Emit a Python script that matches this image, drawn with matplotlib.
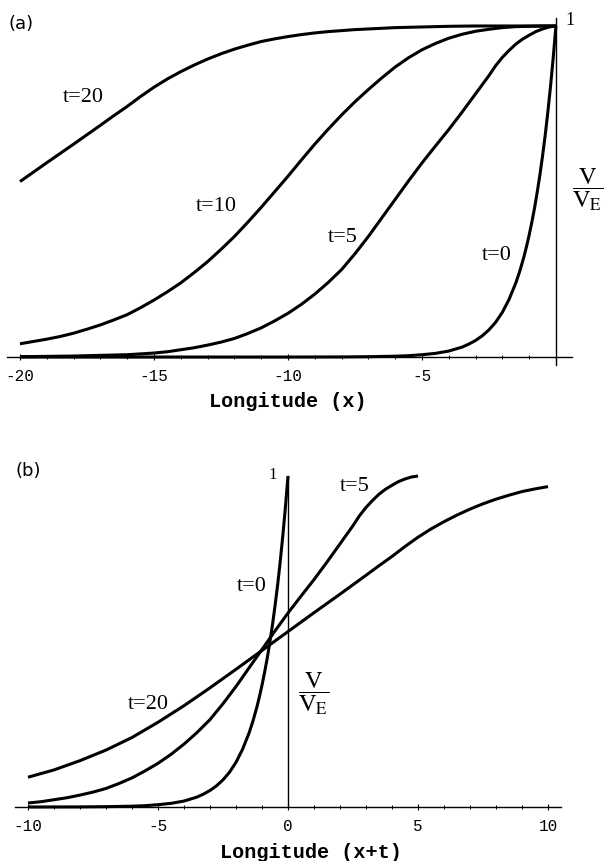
import numpy as np
import matplotlib.pyplot as plt
from matplotlib.ticker import MultipleLocator

plt.rcParams['mathtext.fontset'] = 'stix'

# V/V_E profiles read against longitude x for each time t
x_t0 = [-20, -10, -8, -7, -6, -5.5, -5, -4.5, -4, -3.5, -3.25, -3, -2.75, -2.5, -2.25,
        -2, -1.75, -1.5, -1.35, -1.2, -1.1, -1, -0.9, -0.8, -0.7, -0.6, -0.5, -0.4,
        -0.3, -0.2, -0.1, 0]
v_t0 = [0.0, 0.0, 0.0003, 0.001, 0.0025, 0.004, 0.007, 0.011, 0.018, 0.030, 0.039,
        0.050, 0.064, 0.082, 0.105, 0.135, 0.174, 0.223, 0.259, 0.301, 0.333, 0.368,
        0.407, 0.449, 0.497, 0.549, 0.607, 0.670, 0.741, 0.819, 0.905, 1.0]

x_t5 = [-20, -18, -16, -15, -14.5, -14, -13.5, -13, -12.5, -12, -11.5, -11, -10.5, -10,
        -9.5, -9, -8.5, -8, -7.5, -7, -6.5, -6, -5.5, -5, -4.5, -4, -3.5, -3, -2.5,
        -2.25, -2, -1.75, -1.5, -1.25, -1, -0.75, -0.5, -0.25, 0]
v_t5 = [0.001, 0.003, 0.007, 0.012, 0.016, 0.022, 0.028, 0.036, 0.045, 0.056, 0.071,
        0.088, 0.109, 0.132, 0.159, 0.19, 0.225, 0.264, 0.312, 0.364, 0.42, 0.476,
        0.532, 0.586, 0.637, 0.687, 0.74, 0.795, 0.85, 0.88, 0.905, 0.926, 0.945,
        0.96, 0.972, 0.983, 0.991, 0.997, 1.0]

x_t10 = [-20, -19.5, -19, -18.5, -18, -17.5, -17, -16.5, -16, -15.5, -15, -14.5, -14,
         -13.5, -13, -12.5, -12, -11.5, -11, -10.5, -10, -9.5, -9, -8.5, -8, -7.5, -7,
         -6.5, -6, -5.5, -5, -4.5, -4, -3.5, -3, -2.5, -2, -1.5, -1, -0.5, 0]
v_t10 = [0.04, 0.047, 0.054, 0.062, 0.072, 0.084, 0.097, 0.112, 0.128, 0.149, 0.172,
         0.197, 0.224, 0.255, 0.288, 0.325, 0.364, 0.407, 0.452, 0.499, 0.546, 0.595,
         0.643, 0.688, 0.731, 0.771, 0.808, 0.843, 0.876, 0.904, 0.928, 0.947, 0.963,
         0.975, 0.984, 0.990, 0.995, 0.998, 0.999, 1.0, 1.0]

x_t20 = [-30, -29, -28, -27, -26, -25, -24, -23, -22, -21, -20, -19, -18, -17, -16.5,
         -16, -15.5, -15, -14.5, -14, -13.5, -13, -12.5, -12, -11.5, -11, -10.5, -10,
         -9.5, -9, -8.5, -8, -7.5, -7, -6.5, -6, -5.5, -5, -4.5, -4, -3.5, -3, -2, -1, 0]
v_t20 = [0.09, 0.112, 0.14, 0.172, 0.21, 0.256, 0.306, 0.36, 0.416, 0.473, 0.53,
         0.587, 0.643, 0.70, 0.729, 0.757, 0.787, 0.815, 0.84, 0.862, 0.882, 0.900,
         0.916, 0.930, 0.942, 0.953, 0.961, 0.968, 0.974, 0.979, 0.983, 0.986, 0.989,
         0.991, 0.993, 0.995, 0.996, 0.997, 0.998, 0.999, 0.9995, 1.0, 1.0, 1.0, 1.0]

curves = {0: (x_t0, v_t0), 5: (x_t5, v_t5), 10: (x_t10, v_t10), 20: (x_t20, v_t20)}

ticks_a = [-20, -15, -10, -5]
ticks_b = [-10, -5, 0, 5, 10]

W, H = 606, 861
fig = plt.figure(figsize=(W / 100, H / 100), dpi=100)


def frame(ax, xlim, ylim, ticks):
    ax.set_xlim(*xlim)
    ax.set_ylim(*ylim)
    ax.patch.set_visible(False)
    for s in ['top', 'right']:
        ax.spines[s].set_visible(False)
    for s in ['left', 'bottom']:
        ax.spines[s].set_position(('data', 0))
        ax.spines[s].set_linewidth(1.0)
    ax.set_yticks([])
    ax.set_xticks(ticks)
    ax.set_xticklabels([str(t) for t in ticks], family='Liberation Mono', fontsize=11.5)
    ax.xaxis.set_minor_locator(MultipleLocator(1))
    ax.tick_params(axis='x', which='major', direction='inout', length=5, width=0.8, pad=6)
    ax.tick_params(axis='x', which='minor', direction='inout', length=3, width=0.7)


def curve(ax, t, lo, hi, shift=0):
    x, v = np.array(curves[t][0], float), np.array(curves[t][1], float)
    keep = (x + shift >= lo) & (x + shift <= hi)
    ax.plot(x[keep] + shift, v[keep], color='black', lw=2.2, clip_on=False,
            solid_capstyle='butt', solid_joinstyle='round')


label_kw = dict(family='Liberation Serif', fontsize=16, ha='center', va='center')
frac = r'$\dfrac{\mathrm{V}}{\mathrm{V}_{\mathrm{E}}}$'

# (a) profiles against longitude x
ax_a = fig.add_axes([6.6 / W, (H - 365.3) / H, 565.4 / W, 347.6 / H])
frame(ax_a, (-20.5, 0.6), (-0.025, 1.025), ticks_a)
for t in [0, 5, 10, 20]:
    curve(ax_a, t, -20, 0)
ax_a.text(-17.65, 0.785, 't=20', **label_kw)
ax_a.text(-12.66, 0.454, 't=10', **label_kw)
ax_a.text(-7.95, 0.36, 't=5', **label_kw)
ax_a.text(-2.2, 0.307, 't=0', **label_kw)
ax_a.text(0.52, 1.018, '1', family='Liberation Serif', fontsize=13, ha='center', va='center')
ax_a.text(1.2, 0.505, frac, fontsize=17.5, ha='center', va='center')

# (b) the same profiles against x+t
ax_b = fig.add_axes([15 / W, (H - 807) / H, 546 / W, 331 / H])
frame(ax_b, (-10.5, 10.5), (0, 1), ticks_b)
ax_b.spines['left'].set_bounds(0, 1)
for t in [0, 5, 20]:
    curve(ax_b, t, -10, 10, shift=t)
ax_b.text(-1.39, 0.667, 't=0', **label_kw)
ax_b.text(2.57, 0.968, 't=5', **label_kw)
ax_b.text(-5.36, 0.311, 't=20', **label_kw)
ax_b.text(-0.58, 1.003, '1', family='Liberation Serif', fontsize=12, ha='center', va='center')
ax_b.text(1.0, 0.344, frac, fontsize=17.5, ha='center', va='center')

fig.text(288 / W, 1 - 402 / H, 'Longitude (x)', family='Liberation Mono',
         weight='bold', fontsize=14.5, ha='center', va='center')
fig.text(311 / W, 1 - 853 / H, 'Longitude (x+t)', family='Liberation Mono',
         weight='bold', fontsize=14.5, ha='center', va='center')
fig.text(21 / W, 1 - 24 / H, '(a)', family='DejaVu Sans', fontsize=13,
         ha='center', va='center')
fig.text(28 / W, 1 - 471 / H, '(b)', family='DejaVu Sans', fontsize=13,
         ha='center', va='center')

fig.savefig('out.png', dpi=100)
